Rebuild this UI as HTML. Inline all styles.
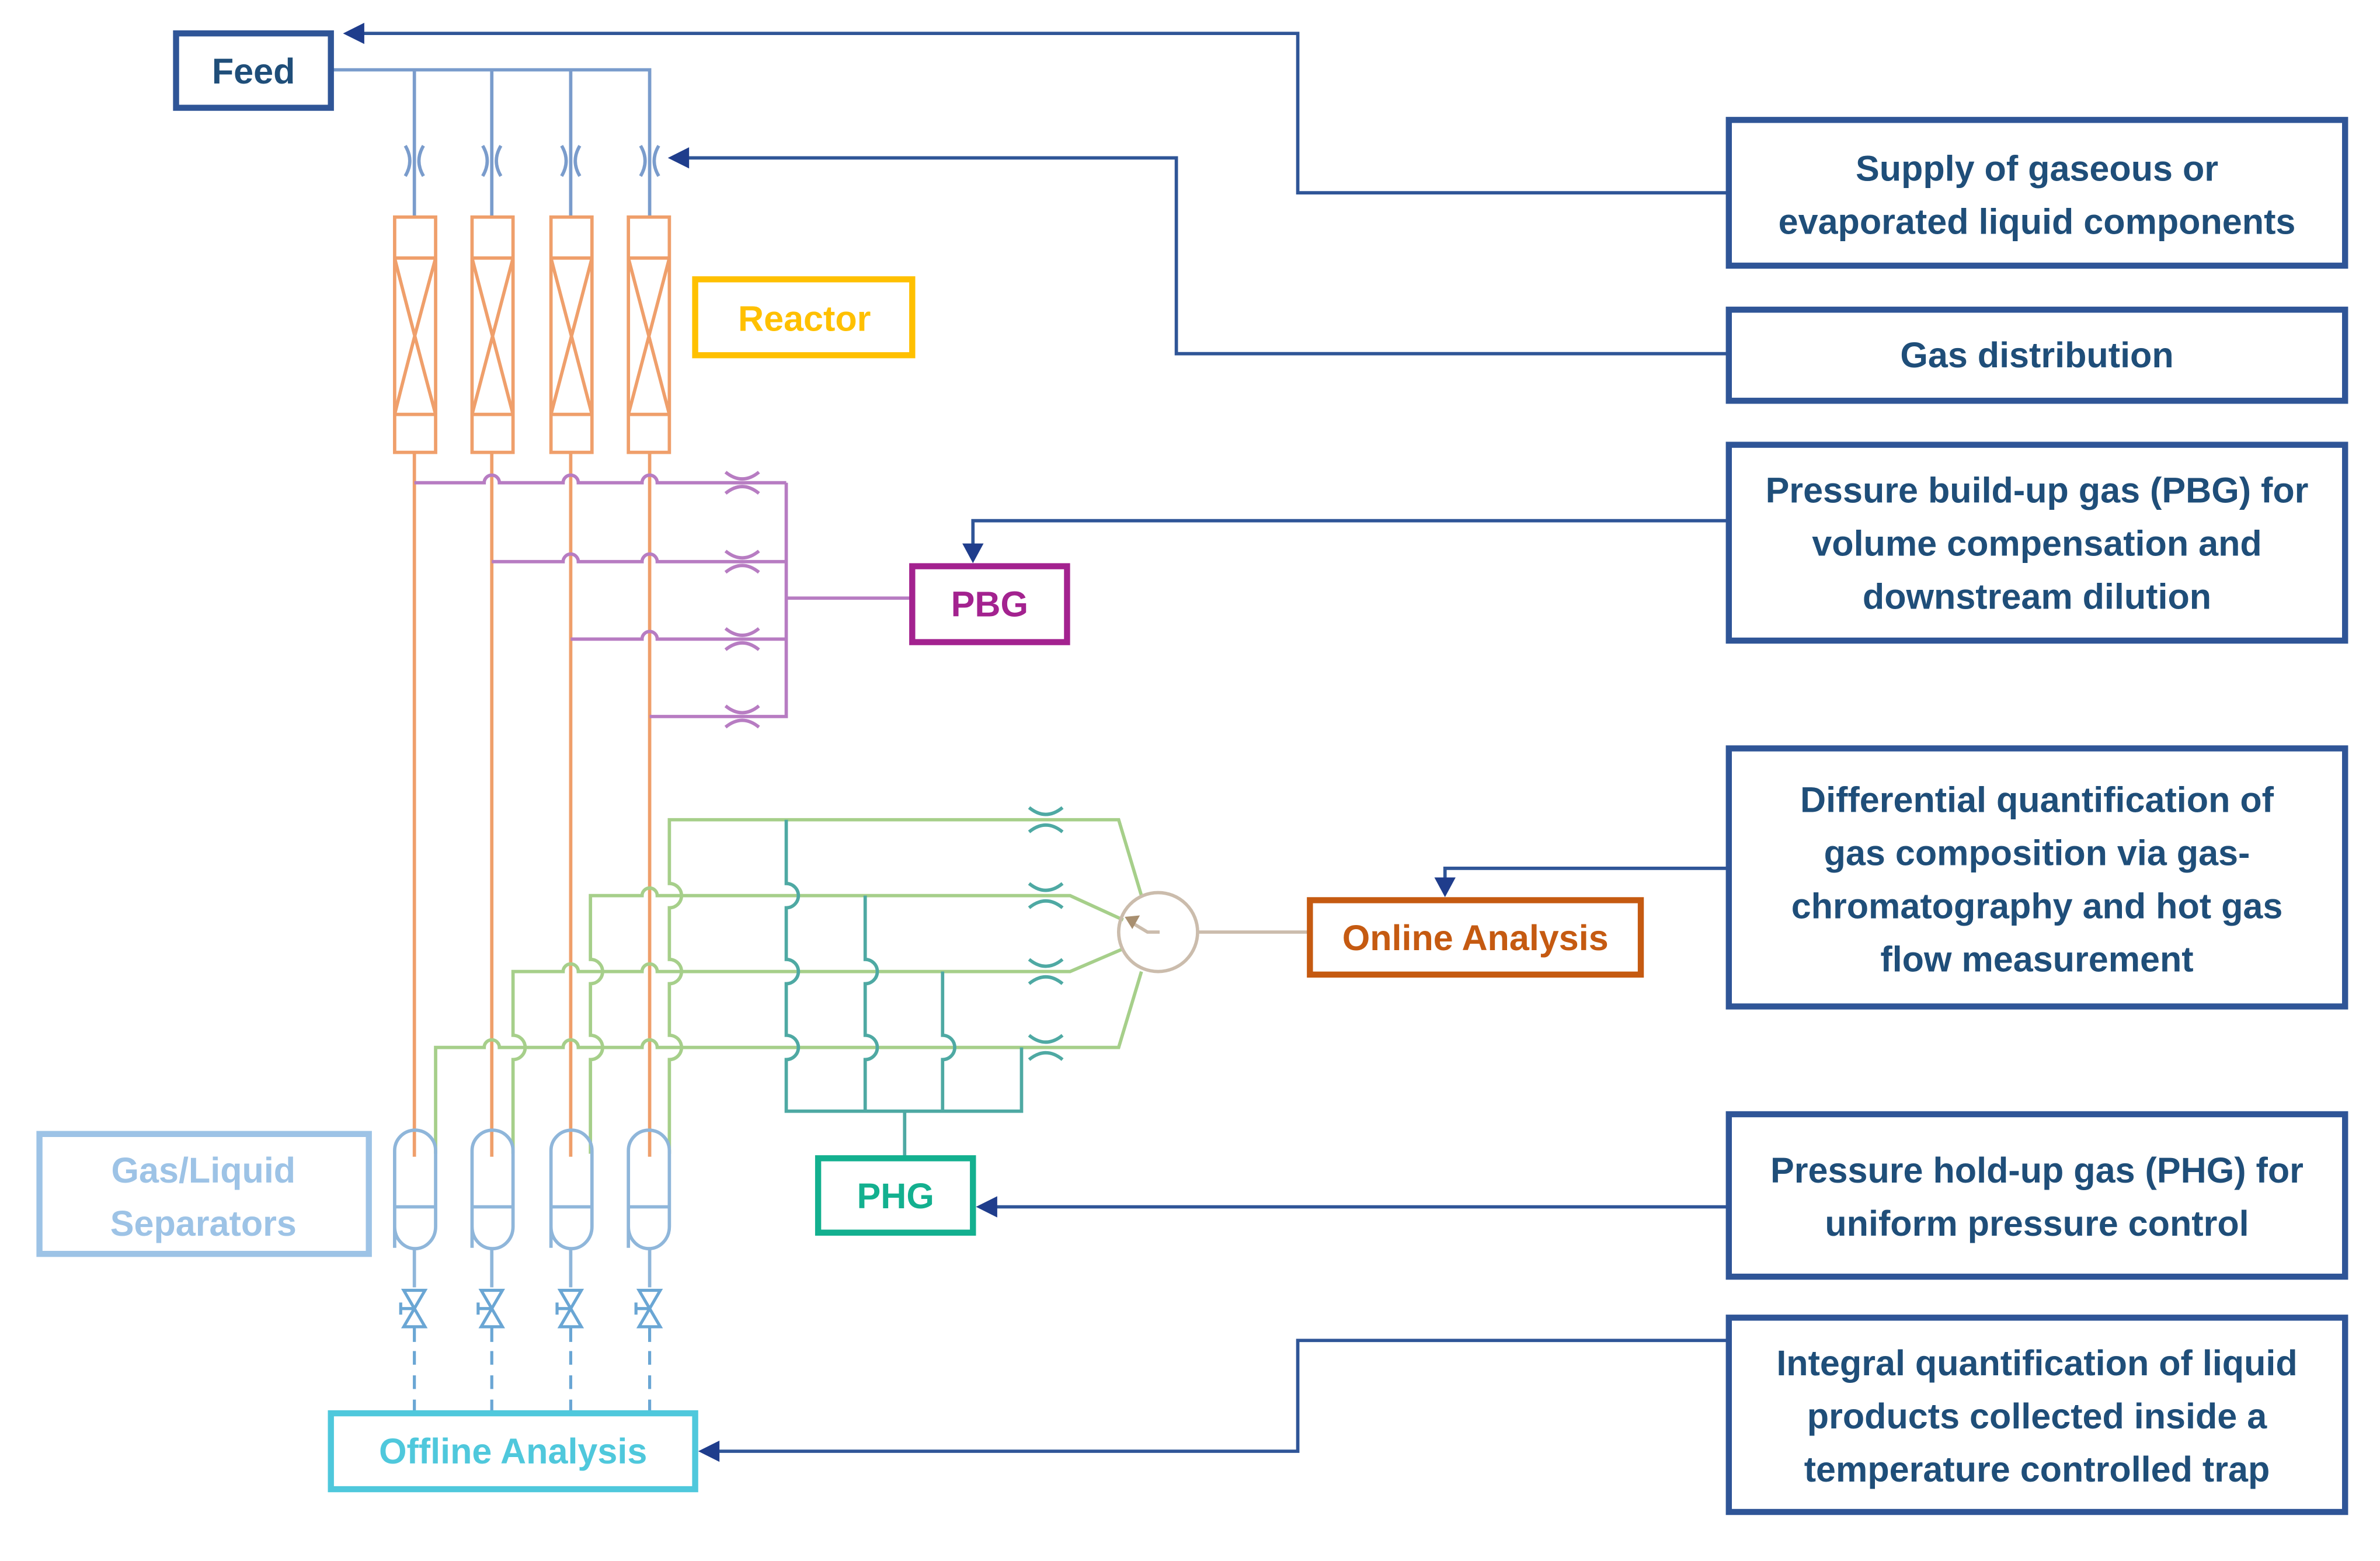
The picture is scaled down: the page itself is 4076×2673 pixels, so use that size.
<!DOCTYPE html>
<html><head><meta charset="utf-8"><style>
html,body{margin:0;padding:0;background:#fff;}
svg{display:block;}
text{font-family:"Liberation Sans",sans-serif;font-weight:bold;}
</style></head><body>
<svg width="4076" height="2673" viewBox="0 0 1568 1028.3" preserveAspectRatio="none" xmlns="http://www.w3.org/2000/svg">
<g fill="none" stroke-linejoin="miter">
<!-- arrows from right boxes -->
<g stroke="#2f5597" stroke-width="2.2">
<path d="M1138 127 H855 V22 H238"/>
<path d="M1138 233 H775 V104 H452"/>
<path d="M1138 343 H641 V360"/>
<path d="M1138 572 H952 V580"/>
<path d="M1138 795 H655"/>
<path d="M1138 883 H855 V956 H472"/>
</g>
<g fill="#1f3d8c" stroke="none">
<path d="M226 22 L240 15 L240 29 Z"/>
<path d="M440 104 L454 97 L454 111 Z"/>
<path d="M641 371 L634 358 L648 358 Z"/>
<path d="M952 591 L945 578 L959 578 Z"/>
<path d="M643 795 L657 788 L657 802 Z"/>
<path d="M460 956 L474 949 L474 963 Z"/>
</g>
<!-- feed lines -->
<g stroke="#7a9ccc" stroke-width="2.2">
<path d="M219 46 H428 V143 M273 46 V143 M324 46 V143 M376 46 V143"/>
</g>
<g stroke="#7a9ccc" stroke-width="2.2">
<path d="M267 96 q6 10 0 20 M279 96 q-6 10 0 20"/>
<path d="M318 96 q6 10 0 20 M330 96 q-6 10 0 20"/>
<path d="M370 96 q6 10 0 20 M382 96 q-6 10 0 20"/>
<path d="M422 96 q6 10 0 20 M434 96 q-6 10 0 20"/>
</g>
<!-- reactors -->
<g stroke="#ef9f6b" stroke-width="2.2">
<rect x="260" y="143" width="27" height="155"/><path d="M260 170 H287 M260 273 H287 M260 170 Q273 221 287 273 M287 170 Q273 221 260 273"/>
<rect x="311" y="143" width="27" height="155"/><path d="M311 170 H338 M311 273 H338 M311 170 L338 273 M338 170 L311 273"/>
<rect x="363" y="143" width="27" height="155"/><path d="M363 170 H390 M363 273 H390 M363 170 L390 273 M390 170 L363 273"/>
<rect x="414" y="143" width="27" height="155"/><path d="M414 170 H441 M414 273 H441 M414 170 L441 273 M441 170 L414 273"/>
<path d="M273 298 V762 M324 298 V762 M376 298 V762 M428 298 V762"/>
</g>
<!-- PBG purple -->
<g stroke="#b77cc2" stroke-width="2.2">
<path d="M273 318 H319 a5 5 0 0 1 10 0 H371 a5 5 0 0 1 10 0 H423 a5 5 0 0 1 10 0 H518"/>
<path d="M324 370 H371 a5 5 0 0 1 10 0 H423 a5 5 0 0 1 10 0 H518"/>
<path d="M376 421 H423 a5 5 0 0 1 10 0 H518"/>
<path d="M428 472 H518 V318 M518 394 H600"/>
<path d="M478 311 q11 9 22 0 M478 325 q11 -9 22 0"/>
<path d="M478 363 q11 9 22 0 M478 377 q11 -9 22 0"/>
<path d="M478 414 q11 9 22 0 M478 428 q11 -9 22 0"/>
<path d="M478 465 q11 9 22 0 M478 479 q11 -9 22 0"/>
</g>
<!-- green lines -->
<g stroke="#a6cf8a" stroke-width="2.2">
<path d="M287 760 V690 H319 a5 5 0 0 1 10 0 H371 a5 5 0 0 1 10 0 H423 a5 5 0 0 1 10 0 H737 L752 640"/>
<path d="M338 760 V698 a8 8 0 0 0 0 -16 V640 H371 a5 5 0 0 1 10 0 H423 a5 5 0 0 1 10 0 H705 L740 625"/>
<path d="M389 760 V698 a8 8 0 0 0 0 -16 V648 a8 8 0 0 0 0 -16 V590 H423 a5 5 0 0 1 10 0 H705 L740 606"/>
<path d="M441 760 V698 a8 8 0 0 0 0 -16 V648 a8 8 0 0 0 0 -16 V598 a8 8 0 0 0 0 -16 V540 H737 L752 590"/>
</g>
<!-- teal PHG -->
<g stroke="#4ea9a3" stroke-width="2.2">
<path d="M518 540 V582 a8 8 0 0 1 0 16 V632 a8 8 0 0 1 0 16 V682 a8 8 0 0 1 0 16 V732 H673 V690"/>
<path d="M570 590 V632 a8 8 0 0 1 0 16 V682 a8 8 0 0 1 0 16 V732"/>
<path d="M621 640 V682 a8 8 0 0 1 0 16 V732"/>
<path d="M596 732 V762"/>
<path d="M678 532 q11 9 22 0 M678 548 q11 -9 22 0"/>
<path d="M678 582 q11 9 22 0 M678 598 q11 -9 22 0"/>
<path d="M678 632 q11 9 22 0 M678 648 q11 -9 22 0"/>
<path d="M678 682 q11 9 22 0 M678 698 q11 -9 22 0"/>
</g>
<!-- online analysis circle -->
<g stroke="#cbbcac" stroke-width="2.2">
<circle cx="763" cy="614" r="26"/>
<path d="M789 614 H862 M764 614 H756 L746 608"/>
</g>
<path d="M741 604 L751 603 L746 612 Z" fill="#a88f70"/>
<!-- separators -->
<g stroke="#8fb6da" stroke-width="2.2">
<path d="M260 822 V758 a13 13 0 0 1 27 0 V808 a13 14 0 0 1 -27 0 M260 795 H287 M273 822 V848"/>
<path d="M311 822 V758 a13 13 0 0 1 27 0 V808 a13 14 0 0 1 -27 0 M311 795 H338 M324 822 V848"/>
<path d="M363 822 V758 a13 13 0 0 1 27 0 V808 a13 14 0 0 1 -27 0 M363 795 H390 M376 822 V848"/>
<path d="M414 822 V758 a13 13 0 0 1 27 0 V808 a13 14 0 0 1 -27 0 M414 795 H441 M428 822 V848"/>
</g>
<g stroke="#6aa6d4" stroke-width="2">
<path d="M266 850 H280 L266 874 H280 Z M264 862 H273 M264 858 V866 M273 874 V884"/>
<path d="M317 850 H331 L317 874 H331 Z M315 862 H324 M315 858 V866 M324 874 V884"/>
<path d="M369 850 H383 L369 874 H383 Z M367 862 H376 M367 858 V866 M376 874 V884"/>
<path d="M421 850 H435 L421 874 H435 Z M419 862 H428 M419 858 V866 M428 874 V884"/>
<path d="M273 890 V930 M324 890 V930 M376 890 V930 M428 890 V930" stroke-dasharray="9 7"/>
</g>
<!-- label boxes -->
<g stroke-width="4">
<rect x="116" y="22" width="102" height="49" stroke="#2f5597"/>
<rect x="458" y="184" width="143" height="50" stroke="#ffc000"/>
<rect x="601" y="373" width="102" height="50" stroke="#a3228f"/>
<rect x="863" y="593" width="218" height="49" stroke="#c55a11"/>
<rect x="539" y="763" width="102" height="49" stroke="#13b08f"/>
<rect x="26" y="747" width="217" height="79" stroke="#9dc3e6"/>
<rect x="218" y="931" width="240" height="50" stroke="#4fc8dc"/>
<rect x="1139" y="79" width="406" height="96" stroke="#2f5597"/>
<rect x="1139" y="204" width="406" height="60" stroke="#2f5597"/>
<rect x="1139" y="293" width="406" height="129" stroke="#2f5597"/>
<rect x="1139" y="493" width="406" height="170" stroke="#2f5597"/>
<rect x="1139" y="734" width="406" height="107" stroke="#2f5597"/>
<rect x="1139" y="868" width="406" height="128" stroke="#2f5597"/>
</g>
</g>
<g font-size="23.5" text-anchor="middle">
<text x="167" y="55" fill="#1f4e79">Feed</text>
<text x="530" y="218" fill="#ffc000">Reactor</text>
<text x="652" y="406" fill="#a3228f">PBG</text>
<text x="972" y="626" fill="#c55a11">Online Analysis</text>
<text x="590" y="796" fill="#13b08f">PHG</text>
<text x="134" y="779" fill="#9dc3e6">Gas/Liquid</text>
<text x="134" y="814" fill="#9dc3e6">Separators</text>
<text x="338" y="964" fill="#4fc8dc">Offline Analysis</text>
<g fill="#1f4e79">
<text x="1342" y="119">Supply of gaseous or</text>
<text x="1342" y="154">evaporated liquid components</text>
<text x="1342" y="242">Gas distribution</text>
<text x="1342" y="331">Pressure build-up gas (PBG)  for</text>
<text x="1342" y="366">volume compensation and</text>
<text x="1342" y="401">downstream dilution</text>
<text x="1342" y="535">Differential  quantification of</text>
<text x="1342" y="570">gas composition via gas-</text>
<text x="1342" y="605">chromatography and hot gas</text>
<text x="1342" y="640">flow measurement</text>
<text x="1342" y="779">Pressure hold-up gas (PHG)  for</text>
<text x="1342" y="814">uniform pressure control</text>
<text x="1342" y="906">Integral quantification of liquid</text>
<text x="1342" y="941">products collected inside a</text>
<text x="1342" y="976">temperature controlled trap</text>
</g>
</g>
</svg>
</body></html>
